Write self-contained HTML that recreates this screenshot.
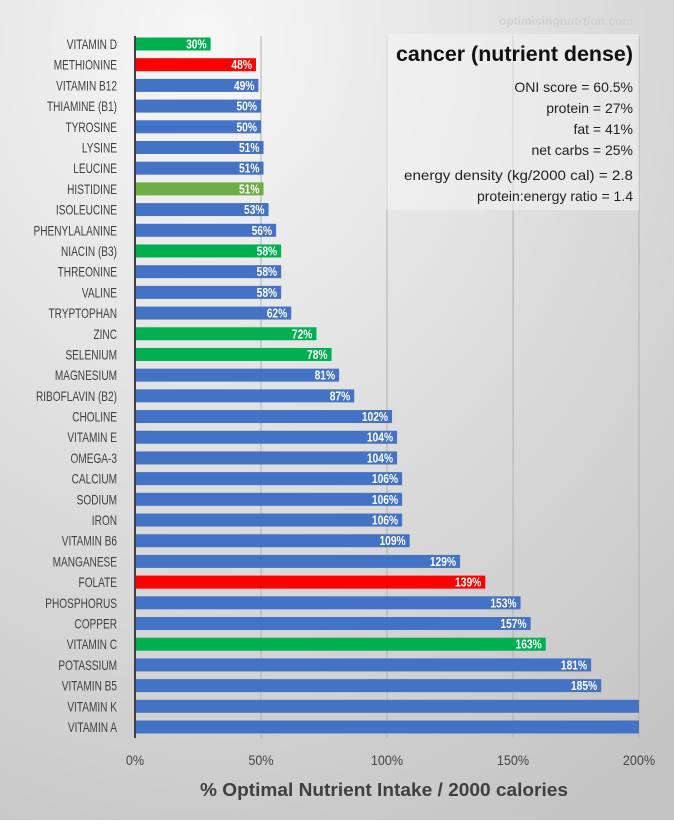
<!DOCTYPE html>
<html><head><meta charset="utf-8"><style>
html,body{margin:0;padding:0;}
body{width:674px;height:820px;overflow:hidden;font-family:"Liberation Sans",sans-serif;}
</style></head><body>
<svg id="chart" width="674" height="820" xmlns="http://www.w3.org/2000/svg">
<defs>
<radialGradient id="bg" cx="0.3" cy="0.05" r="1.1">
<stop offset="0" stop-color="#f7f7f7"/><stop offset="1" stop-color="#c4c4c4"/>
</radialGradient>
</defs>
<rect x="0" y="0" width="674" height="820" fill="url(#bg)"/>
<g id="grid"></g>
<rect x="386" y="34" width="253" height="176" fill="#f6f6f6" opacity="0.5"/>
<g id="bars"></g>
<text x="633" y="25" text-anchor="end" font-size="12" fill="#d0d0d0" font-weight="bold">optimisingnutrtion.com</text>
<text x="633" y="61" text-anchor="end" font-size="21" font-weight="bold" fill="#111" textLength="237" lengthAdjust="spacingAndGlyphs">cancer (nutrient dense)</text>
<g font-size="14" fill="#222" text-anchor="end">
<text x="633" y="92">ONI score = 60.5%</text>
<text x="633" y="113">protein = 27%</text>
<text x="633" y="134">fat = 41%</text>
<text x="633" y="155">net carbs = 25%</text>
<text x="633" y="180" textLength="229" lengthAdjust="spacingAndGlyphs">energy density (kg/2000 cal) = 2.8</text>
<text x="633" y="201">protein:energy ratio = 1.4</text>
</g>
<text x="384" y="796" text-anchor="middle" font-size="18" font-weight="bold" fill="#404040" textLength="368" lengthAdjust="spacingAndGlyphs">% Optimal Nutrient Intake / 2000 calories</text>
</svg>
<script>
const categories=["VITAMIN D","METHIONINE","VITAMIN B12","THIAMINE (B1)","TYROSINE","LYSINE","LEUCINE","HISTIDINE","ISOLEUCINE","PHENYLALANINE","NIACIN (B3)","THREONINE","VALINE","TRYPTOPHAN","ZINC","SELENIUM","MAGNESIUM","RIBOFLAVIN (B2)","CHOLINE","VITAMIN E","OMEGA-3","CALCIUM","SODIUM","IRON","VITAMIN B6","MANGANESE","FOLATE","PHOSPHORUS","COPPER","VITAMIN C","POTASSIUM","VITAMIN B5","VITAMIN K","VITAMIN A"];
const values=[30,48,49,50,50,51,51,51,53,56,58,58,58,62,72,78,81,87,102,104,104,106,106,106,109,129,139,153,157,163,181,185,250,300];
const colorKeys=["g","r","b","b","b","b","b","o","b","b","g","b","b","b","g","g","b","b","b","b","b","b","b","b","b","b","r","b","b","g","b","b","b","b"];
const ticks=[0,50,100,150,200];
const palette={g:"#00b050",r:"#ff0000",b:"#4472c4",o:"#70ad47"};
const NS="http://www.w3.org/2000/svg";
const x0=135,x1=639,xMax=200;
const xs=v=>x0+(Math.min(v,xMax)/xMax)*(x1-x0);
const yTop=44,yStep=(727-44)/33;
const ys=i=>yTop+i*yStep;
const grid=document.getElementById('grid'),bars=document.getElementById('bars');
function mk(tag,attrs,parent){const e=document.createElementNS(NS,tag);for(const k in attrs)e.setAttribute(k,attrs[k]);parent.appendChild(e);return e;}
function condense(t,f){const w=t.getComputedTextLength();t.setAttribute('textLength',w*f);t.setAttribute('lengthAdjust','spacingAndGlyphs');}
ticks.forEach(t=>{
  const l=mk('line',{x1:xs(t),x2:xs(t),y1:36,y2:738,stroke:t===0?'#404040':'#b0b0b0','stroke-width':t===0?2:1},grid);
  
  
  const tx=mk('text',{x:xs(t),y:765,'text-anchor':'middle','font-size':14,fill:'#444'},grid);
  tx.textContent=t+'%';
  
  
  condense(tx,0.9);
});
categories.forEach((c,i)=>{
  const y=ys(i);
  const lab=mk('text',{x:117,y:y+5,'text-anchor':'end','font-size':14,fill:'#404040'},bars);
  lab.textContent=c;
  
  
  condense(lab,0.72);
  const w=xs(values[i])-x0;
  const r=mk('rect',{x:x0+1,y:y-6.5,width:w-1,height:13,fill:palette[colorKeys[i]]},bars);
  
  
  if(values[i]<=xMax){
    const v=mk('text',{x:x0+w-4,y:y+4.5,'text-anchor':'end','font-size':12.5,'font-weight':'bold',fill:'#fff'},bars);
    v.textContent=values[i]+'%';
    
    
    condense(v,0.82);
  }
});
</script>
</body></html>
